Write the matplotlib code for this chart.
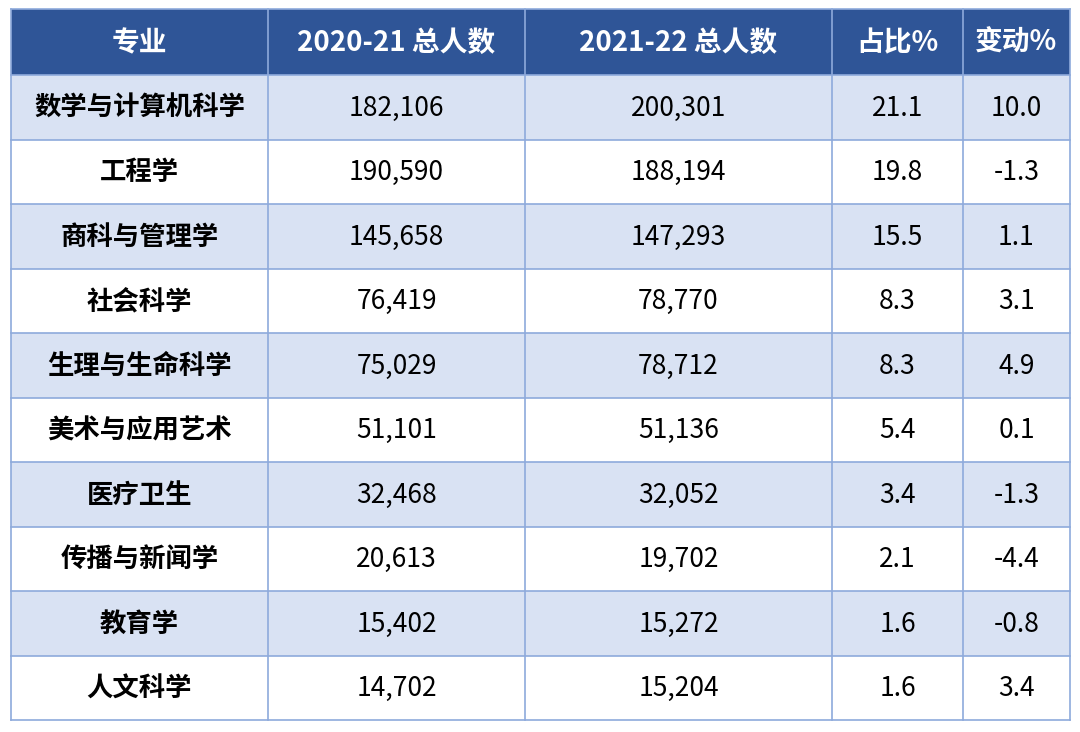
import matplotlib.pyplot as plt
from matplotlib.patches import Rectangle

plt.rcParams['font.family'] = ['Noto Sans CJK SC', 'DejaVu Sans']

headers = ['专业', '2020-21 总人数', '2021-22 总人数', '占比%', '变动%']
majors = ['数学与计算机科学', '工程学', '商科与管理学', '社会科学', '生理与生命科学',
          '美术与应用艺术', '医疗卫生', '传播与新闻学', '教育学', '人文科学']
total_2020 = [182106, 190590, 145658, 76419, 75029, 51101, 32468, 20613, 15402, 14702]
total_2021 = [200301, 188194, 147293, 78770, 78712, 51136, 32052, 19702, 15272, 15204]
share = [21.1, 19.8, 15.5, 8.3, 8.3, 5.4, 3.4, 2.1, 1.6, 1.6]
change = [10.0, -1.3, 1.1, 3.1, 4.9, 0.1, -1.3, -4.4, -0.8, 3.4]

col_x = [11, 268, 525, 832, 963, 1070]
top, head_h, bottom = 9, 75, 720
row_h = (bottom - head_h) / len(majors)

head_color = '#2F5597'
stripe = '#D9E2F3'
line_color = '#8EAADB'

fig = plt.figure(figsize=(10.8, 7.32), dpi=100)
ax = fig.add_axes([0, 0, 1, 1])
ax.set_xlim(0, 1080)
ax.set_ylim(732, 0)
ax.axis('off')

# header
ax.add_patch(Rectangle((col_x[0], top), col_x[-1] - col_x[0], head_h - top,
                       facecolor=head_color, edgecolor='none'))
for j, h in enumerate(headers):
    cx = (col_x[j] + col_x[j + 1]) / 2
    ax.text(cx, (top + head_h) / 2 + 1, h, color='white', fontsize=20, fontweight='bold',
            ha='center', va='center')

# body rows
for i, m in enumerate(majors):
    y0 = head_h + i * row_h
    fc = stripe if i % 2 == 0 else 'white'
    ax.add_patch(Rectangle((col_x[0], y0), col_x[-1] - col_x[0], row_h,
                           facecolor=fc, edgecolor='none'))
    vals = [m, f'{total_2020[i]:,}', f'{total_2021[i]:,}', f'{share[i]:.1f}', f'{change[i]:.1f}']
    cy = y0 + row_h / 2 + 1
    for j, v in enumerate(vals):
        cx = (col_x[j] + col_x[j + 1]) / 2
        ax.text(cx, cy, v, color='black', fontsize=19,
                fontweight='bold' if j == 0 else 'normal', ha='center', va='center')

# grid lines
for x in col_x:
    ax.plot([x, x], [top, bottom], color=line_color, lw=1.2)
ax.plot([col_x[0], col_x[-1]], [top, top], color=line_color, lw=1.2)
for i in range(len(majors) + 1):
    y = head_h + i * row_h
    ax.plot([col_x[0], col_x[-1]], [y, y], color=line_color, lw=1.2)

fig.savefig('out.png', dpi=100)
